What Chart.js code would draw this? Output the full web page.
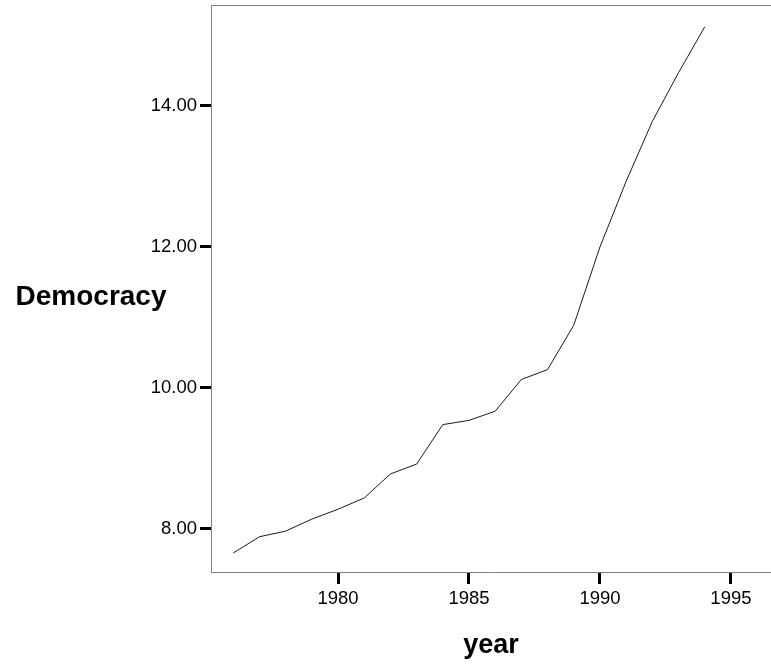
<!DOCTYPE html>
<html>
<head>
<meta charset="utf-8">
<script src="https://cdn.jsdelivr.net/npm/chart.js@4"></script>
<style>
  body { margin: 0; background: #fff; }
  canvas { display: block; }
</style>
</head>
<body>
<canvas id="chart" width="771" height="669"></canvas>
<script>
const years = [1976, 1977, 1978, 1979, 1980, 1981, 1982, 1983, 1984, 1985,
               1986, 1987, 1988, 1989, 1990, 1991, 1992, 1993, 1994];
const democracy = [7.66, 7.89, 7.97, 8.14, 8.28, 8.44, 8.78, 8.92, 9.48, 9.54,
                   9.67, 10.12, 10.26, 10.89, 12.00, 12.93, 13.78, 14.47, 15.12];
const xTicks = [1980, 1985, 1990, 1995];
const yTicks = [8, 10, 12, 14];

const fontFamily = '"Liberation Sans", Arial, sans-serif';

// y title sits horizontally left of the axis, so draw it ourselves
const frame = {
    id: 'frame',
    afterDraw(chart) {
        const { ctx, chartArea } = chart;
        ctx.save();
        ctx.strokeStyle = '#808080';
        ctx.lineWidth = 1;
        ctx.beginPath();
        ctx.moveTo(chartArea.left, chartArea.top + 0.5);
        ctx.lineTo(chart.width, chartArea.top + 0.5);
        ctx.stroke();
        ctx.fillStyle = '#000';
        ctx.font = 'bold 28px ' + fontFamily;
        ctx.textAlign = 'center';
        ctx.textBaseline = 'alphabetic';
        ctx.fillText('Democracy', 91, 305);
        ctx.restore();
    }
};

new Chart(document.getElementById('chart'), {
    type: 'line',
    data: {
        datasets: [{
            data: years.map((y, i) => ({ x: y, y: democracy[i] })),
            borderColor: '#1a1a1a',
            borderWidth: 1,
            pointRadius: 0,
            tension: 0,
            fill: false
        }]
    },
    options: {
        responsive: false,
        animation: false,
        layout: { padding: { top: 5, right: 0, left: 0, bottom: 0 } },
        plugins: {
            legend: { display: false },
            tooltip: { enabled: false }
        },
        scales: {
            x: {
                type: 'linear',
                min: 1975.15,
                max: 1996.53,
                afterBuildTicks: scale => { scale.ticks = xTicks.map(v => ({ value: v })); },
                afterFit: scale => {
                    scale.height = 97;
                    scale.paddingLeft = 0;
                    scale.paddingRight = 0;
                },
                ticks: {
                    color: '#000',
                    font: { family: fontFamily, size: 18.5 },
                    padding: 4,
                    maxRotation: 0,
                    callback: v => String(v)
                },
                grid: {
                    drawOnChartArea: false,
                    drawTicks: true,
                    tickLength: 12,
                    tickWidth: 3,
                    tickColor: '#000'
                },
                border: { display: true, color: '#808080', width: 1 },
                title: {
                    display: true,
                    text: 'year',
                    color: '#000',
                    font: { family: fontFamily, size: 27, weight: 'bold' },
                    padding: { top: 0, bottom: 7 }
                }
            },
            y: {
                min: 7.39,
                max: 15.43,
                afterBuildTicks: scale => { scale.ticks = yTicks.map(v => ({ value: v })); },
                afterFit: scale => {
                    scale.width = 211;
                    scale.paddingTop = 0;
                    scale.paddingBottom = 0;
                },
                ticks: {
                    color: '#000',
                    font: { family: fontFamily, size: 18.5 },
                    padding: 3,
                    callback: v => v.toFixed(2)
                },
                grid: {
                    drawOnChartArea: false,
                    drawTicks: true,
                    tickLength: 11,
                    tickWidth: 3,
                    tickColor: '#000'
                },
                border: { display: true, color: '#808080', width: 1 }
            }
        }
    },
    plugins: [frame]
});
</script>
</body>
</html>
